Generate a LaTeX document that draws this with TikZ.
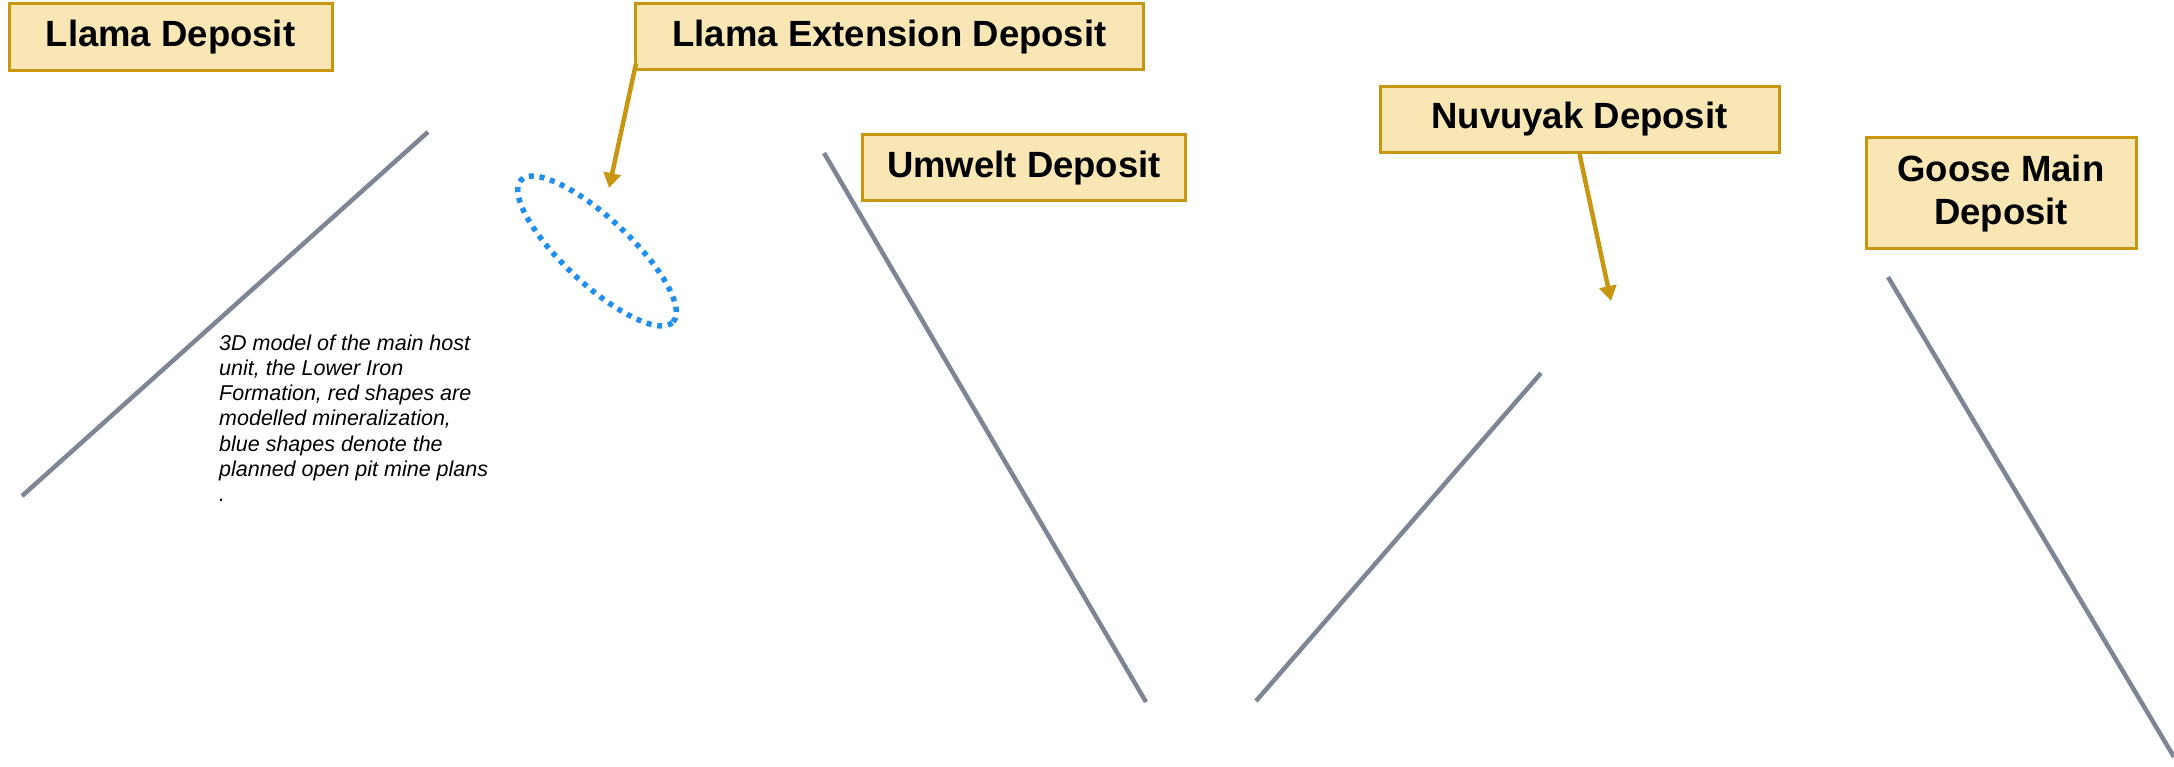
\documentclass[tikz,border=0pt]{standalone}
\usepackage{fontspec}
\setmainfont{Liberation Sans}
\usetikzlibrary{arrows.meta,calc}
\definecolor{boxfill}{HTML}{F8E7B4}
\definecolor{boxline}{HTML}{C8960F}
\definecolor{arrowc}{HTML}{C8960F}
\definecolor{grayline}{HTML}{7E8696}
\definecolor{pitblue}{HTML}{1E8FF0}
\tikzset{
  depbox/.style={draw=boxline, line width=3pt, fill=boxfill, inner sep=0pt,
    font=\fontsize{36.5}{43}\selectfont\bfseries, align=center, text=black},
  callout/.style={draw=arrowc, line width=4.5pt, line cap=butt,
    -{Triangle[length=15pt,width=17pt]}},
  trace/.style={draw=grayline, line width=4.5pt, line cap=butt},
  pit/.style={draw=pitblue, line width=5.5pt, line cap=butt, dash pattern=on 5pt off 5.8pt},
  caption/.style={font=\fontsize{21.5}{25.3}\selectfont\itshape, align=left, inner sep=0pt, anchor=base west}
}
\begin{document}
\begin{tikzpicture}[x=1pt,y=-1pt]
\useasboundingbox (0,0) rectangle (2174,767);
% boxes
\node[depbox, minimum width=323pt, minimum height=67pt] (llama) at (170.5,37.5) {Llama Deposit};
\node[depbox, minimum width=508pt, minimum height=66pt] (ext) at (889.5,37) {Llama Extension Deposit};
\node[depbox, minimum width=323pt, minimum height=66pt] (umw) at (1024,168) {Umwelt Deposit};
\node[depbox, minimum width=399pt, minimum height=66pt] (nuv) at (1579.5,119.5) {Nuvuyak Deposit};
\node[depbox, minimum width=270pt, minimum height=111pt] (goose) at (2001,193.5) {Goose Main\\Deposit};
% caption (anchor is the baseline of the last line)
\node[caption] (cap) at (219,501.8) {3D model of the main host\\unit, the Lower Iron\\Formation, red shapes are\\modelled mineralization,\\blue shapes denote the\\planned open pit mine plans\\.};
% grey traces
\coordinate (a1) at (22,496); \coordinate (a2) at (428,132);
\coordinate (b1) at (824,153); \coordinate (b2) at (1146,702);
\coordinate (c1) at (1256,701); \coordinate (c2) at (1541,373);
\coordinate (d1) at (1888,277); \coordinate (d2) at (2174,757);
\draw[trace] (a1) -- (a2);
\draw[trace] (b1) -- (b2);
\draw[trace] (c1) -- (c2);
\draw[trace] (d1) -- (d2);
% pit outline
\coordinate (pitc) at (597,251);
\draw[pit] (pitc) ellipse [x radius=104pt, y radius=33pt, rotate=-43];
% callouts
\coordinate (ext0) at ($(ext.south west)+(2,-8)$);
\coordinate (extTip) at (609,188);
\coordinate (nuvTip) at (1611,301);
\draw[callout] (ext0) -- (extTip);
\draw[callout] (nuv.south) -- (nuvTip);
\end{tikzpicture}
\end{document}
